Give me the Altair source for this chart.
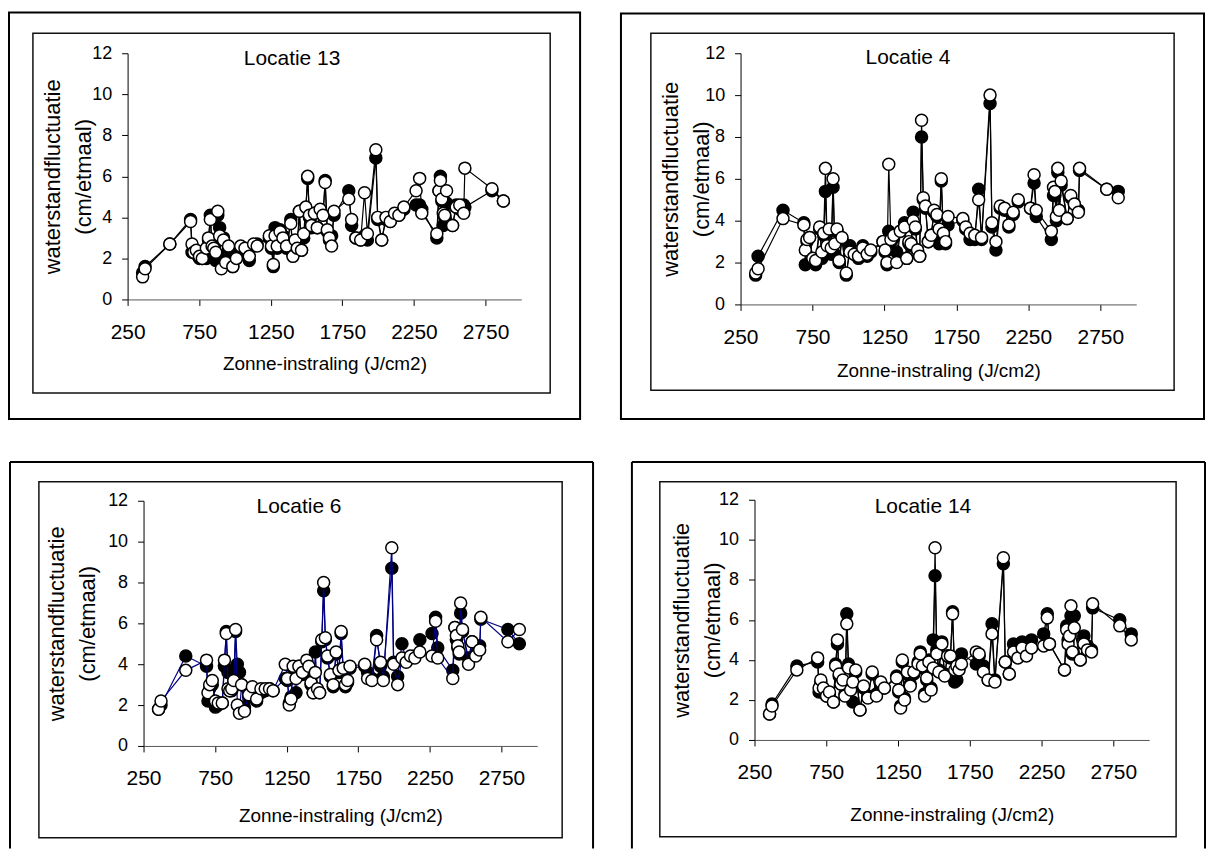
import altair as alt
import pandas as pd

# Zonne-instraling (J/cm2) per day, shared by all locations
X_IRR = [355, 372, 545, 690, 700, 712, 730, 752, 772, 800,
         815, 828, 840, 852, 866, 880, 893, 905, 920, 935,
         955, 985, 1010, 1040, 1070, 1100, 1130, 1155, 1240, 1255,
         1268, 1280, 1295, 1315, 1335, 1360, 1390, 1405, 1420, 1435,
         1450, 1465, 1480, 1495, 1508, 1520, 1535, 1555, 1575, 1595,
         1615, 1630, 1645, 1660, 1675, 1692, 1795, 1815, 1845, 1878,
         1905, 1925, 1984, 1997, 2025, 2055, 2085, 2115, 2145, 2180,
         2265, 2290, 2305, 2410, 2425, 2435, 2445, 2455, 2465, 2478,
         2520, 2545, 2570, 2598, 2606, 2795, 2875]

# Locatie 13
L13_B = [1.3, 1.6, 2.7, 3.9, 2.3, 2.3, 2.2, 2.0, 2.0, 2.0,
         2.9, 4.1, 2.5, 2.3, 1.9, 4.1, 3.5, 1.8, 3.0, 2.0,
         2.3, 1.6, 2.0, 2.5, 2.3, 1.9, 2.6, 2.7, 3.0, 2.5,
         1.6, 3.5, 2.5, 3.4, 3.1, 2.5, 3.9, 2.2, 2.8, 2.4,
         4.3, 2.4, 3.0, 4.4, 5.9, 4.0, 3.5, 4.2, 3.5, 4.3,
         4.1, 5.8, 3.3, 2.9, 3.1, 4.1, 5.3, 3.6, 3.0, 2.9,
         3.1, 2.9, 6.9, 3.9, 2.9, 3.9, 3.8, 4.1, 4.1, 4.4,
         4.6, 4.6, 4.4, 3.0, 5.3, 6.0, 4.8, 3.6, 4.0, 4.7,
         3.6, 4.6, 4.4, 4.6, 4.5, 5.3, 4.8]
L13_W = [1.1, 1.5, 2.7, 3.8, 2.7, 2.3, 2.4, 2.1, 2.0, 2.5,
         3.0, 3.9, 2.6, 2.5, 2.3, 4.3, 3.1, 1.5, 2.9, 1.8,
         2.6, 1.6, 2.0, 2.6, 2.5, 2.1, 2.7, 2.6, 3.1, 2.6,
         1.7, 3.1, 2.6, 3.3, 3.0, 2.6, 3.7, 2.1, 2.9, 2.5,
         4.3, 2.4, 3.2, 4.5, 6.0, 4.1, 3.6, 4.2, 3.5, 4.4,
         4.1, 5.7, 3.4, 3.0, 2.6, 4.3, 4.9, 3.9, 3.0, 2.9,
         5.2, 3.2, 7.3, 4.0, 2.9, 4.0, 3.8, 4.2, 4.1, 4.5,
         5.3, 5.9, 4.2, 3.2, 5.3, 5.8, 4.9, 4.2, 4.1, 5.3,
         3.6, 4.5, 4.6, 4.2, 6.4, 5.4, 4.8]

# Locatie 4
L4_B = [1.4, 2.3, 4.5, 3.9, 1.9, 3.0, 3.2, 2.1, 1.9, 3.6,
        2.2, 3.3, 5.4, 2.7, 3.5, 2.4, 5.6, 2.4, 3.5, 2.0,
        3.1, 1.4, 2.8, 2.4, 2.2, 2.8, 2.3, 2.5, 3.0, 2.5,
        1.9, 3.5, 3.0, 3.2, 2.5, 3.5, 3.9, 2.2, 2.9, 2.8,
        4.4, 3.6, 2.6, 2.3, 8.0, 5.0, 4.6, 3.0, 3.3, 4.4,
        4.2, 2.9, 5.9, 3.3, 2.9, 3.8, 4.0, 3.6, 3.1, 3.1,
        5.5, 3.1, 9.6, 3.7, 2.6, 4.6, 4.5, 3.7, 4.3, 4.9,
        4.6, 5.8, 4.2, 3.1, 5.2, 5.2, 4.0, 6.3, 4.3, 5.7,
        4.1, 5.1, 4.8, 4.5, 6.4, 5.5, 5.4]
L4_W = [1.5, 1.7, 4.1, 3.8, 2.6, 3.1, 3.2, 2.2, 2.1, 3.7,
        2.5, 3.4, 6.5, 2.8, 3.6, 2.7, 6.0, 2.9, 3.6, 2.1,
        3.2, 1.5, 2.5, 2.4, 2.3, 2.7, 2.4, 2.6, 3.0, 2.6,
        2.0, 6.7, 3.1, 3.3, 2.0, 3.5, 3.7, 2.2, 3.0, 2.9,
        4.0, 3.7, 2.6, 2.3, 8.8, 5.1, 4.7, 3.0, 3.3, 4.5,
        4.3, 3.6, 6.0, 3.4, 3.0, 4.2, 4.1, 3.7, 3.4, 3.3,
        5.0, 3.2, 10.0, 3.9, 3.0, 4.7, 4.6, 3.8, 4.4, 5.0,
        4.6, 6.2, 4.5, 3.5, 5.6, 5.4, 4.2, 6.5, 4.5, 5.9,
        4.1, 5.2, 4.8, 4.4, 6.5, 5.5, 5.1]

# Locatie 6
L6_B = [1.8, 2.0, 4.4, 3.9, 2.2, 2.8, 3.0, 1.9, 2.0, 2.1,
        3.9, 5.6, 3.6, 2.7, 2.7, 3.0, 5.6, 4.0, 3.6, 3.0,
        1.9, 2.4, 2.7, 2.2, 2.6, 2.7, 2.8, 2.7, 3.3, 3.2,
        2.1, 2.4, 3.8, 2.6, 3.9, 3.5, 4.1, 3.8, 3.0, 2.6,
        4.6, 2.7, 2.6, 5.1, 7.6, 5.2, 4.3, 3.4, 2.9, 4.5,
        3.6, 5.5, 3.6, 2.9, 3.1, 3.8, 3.9, 3.6, 3.3, 5.4,
        3.9, 3.4, 8.7, 4.1, 3.4, 5.0, 4.2, 4.3, 4.4, 5.2,
        5.5, 6.3, 4.8, 3.7, 5.8, 5.2, 4.8, 4.5, 6.5, 5.6,
        4.3, 5.1, 4.5, 4.9, 6.2, 5.7, 5.0]
L6_W = [1.8, 2.2, 3.7, 4.2, 2.6, 3.0, 3.2, 2.2, 2.1, 2.1,
        4.2, 5.5, 2.8, 2.7, 2.8, 3.2, 5.7, 2.0, 1.6, 3.0,
        1.7, 2.5, 2.9, 2.3, 2.8, 2.8, 2.8, 2.7, 4.0, 3.3,
        2.0, 2.3, 3.9, 3.3, 3.9, 3.6, 4.2, 3.9, 3.1, 2.6,
        3.6, 2.8, 2.6, 5.2, 8.0, 5.3, 4.4, 3.5, 3.0, 4.6,
        3.7, 5.6, 3.8, 3.0, 3.2, 3.9, 4.0, 3.3, 3.2, 5.2,
        4.1, 3.2, 9.7, 4.0, 3.0, 4.3, 4.1, 4.4, 4.3, 4.6,
        4.4, 6.1, 4.3, 3.3, 5.8, 5.4, 4.9, 4.6, 7.0, 5.7,
        4.0, 5.1, 4.4, 4.7, 6.3, 5.1, 5.7]

# Locatie 14
L14_B = [1.3, 1.8, 3.7, 3.9, 2.4, 2.9, 2.5, 2.2, 2.3, 1.9,
         3.8, 4.8, 3.2, 2.8, 2.9, 2.3, 6.3, 3.8, 2.6, 1.9,
         3.4, 1.5, 2.6, 2.2, 3.3, 2.3, 2.6, 2.6, 3.2, 2.4,
         1.7, 3.9, 2.1, 3.3, 2.8, 3.3, 3.9, 4.4, 3.6, 2.3,
         3.0, 4.0, 2.6, 5.0, 8.2, 4.5, 3.5, 4.9, 3.3, 4.2,
         4.1, 6.4, 2.9, 3.0, 3.6, 4.3, 3.8, 4.2, 3.7, 3.0,
         5.8, 3.0, 8.8, 3.9, 3.3, 4.8, 4.2, 4.9, 4.3, 5.0,
         5.3, 6.3, 4.8, 3.5, 5.7, 5.0, 5.5, 6.2, 4.3, 6.2,
         4.0, 5.2, 4.7, 4.5, 6.6, 6.0, 5.3]
L14_W = [1.3, 1.7, 3.5, 4.1, 2.6, 3.0, 2.6, 2.2, 2.4, 1.9,
         3.7, 5.0, 3.3, 2.8, 3.0, 2.2, 5.8, 3.6, 2.5, 2.9,
         3.5, 1.5, 2.7, 2.1, 3.4, 2.2, 2.9, 2.6, 3.1, 2.5,
         1.6, 4.0, 2.0, 3.4, 2.7, 3.4, 3.8, 4.3, 3.7, 2.2,
         3.1, 3.9, 2.5, 3.6, 9.6, 4.3, 3.4, 4.8, 3.2, 4.2,
         4.2, 6.3, 3.5, 3.7, 3.5, 3.8, 4.4, 4.3, 3.4, 3.0,
         5.3, 2.9, 9.1, 3.9, 3.3, 4.4, 4.1, 4.6, 4.2, 4.6,
         4.7, 6.1, 4.8, 3.5, 5.5, 4.8, 5.2, 6.7, 4.4, 5.6,
         4.0, 4.8, 4.5, 4.4, 6.8, 5.7, 5.0]

X_TICKS = [250, 750, 1250, 1750, 2250, 2750]
Y_TICKS = [0, 2, 4, 6, 8, 10, 12]
X_TITLE = "Zonne-instraling (J/cm2)"
Y_TITLE = ["waterstandfluctuatie", "(cm/etmaal)"]

FONT = "Liberation Sans"
CELL_W = 601
CELL_H = 421

for arr in (L13_B, L13_W, L4_B, L4_W, L6_B, L6_W, L14_B, L14_W):
    assert len(arr) == len(X_IRR)


def panel(title, yb, yw, ax, ay, W, H, outer, inner, tx, tb, xty, ytx, line_color, open_bottom):
    n = len(X_IRR)
    dfb = pd.DataFrame({"x": X_IRR, "y": yb, "i": list(range(n))})
    dfw = pd.DataFrame({"x": X_IRR, "y": yw, "i": list(range(n))})
    one = pd.DataFrame({"t": [title]})

    xenc = alt.X("x:Q",
                 scale=alt.Scale(domain=[250, 3000], range=[ax, ax + W], nice=False, zero=False),
                 axis=alt.Axis(values=X_TICKS, format="d", title=X_TITLE, grid=False,
                               offset=ay + H - CELL_H,
                               domainColor="#555", domainWidth=1, tickColor="#000",
                               tickSize=6, tickWidth=1, labelFont=FONT, labelFontSize=21,
                               labelColor="#000", labelPadding=16, labelFlush=False,
                               labelOverlap=False, titleFont=FONT, titleFontSize=19,
                               titleFontWeight="normal", titleColor="#000",
                               titleX=ax + W / 2, titleY=xty, titleBaseline="alphabetic",
                               titleAlign="center"))
    yenc = alt.Y("y:Q",
                 scale=alt.Scale(domain=[0, 12], range=[ay + H, ay], nice=False, zero=True),
                 axis=alt.Axis(values=Y_TICKS, format="d", title=Y_TITLE, grid=False,
                               offset=-ax,
                               domainColor="#000", domainWidth=1, tickColor="#000",
                               tickSize=6, tickWidth=1, labelFont=FONT, labelFontSize=18,
                               labelColor="#000", labelPadding=10, labelFlush=False,
                               labelOverlap=False, titleFont=FONT, titleFontSize=22,
                               titleFontWeight="normal", titleColor="#000",
                               titleLineHeight=31, titleAngle=270,
                               titleX=ytx, titleY=ay + H / 2, titleBaseline="bottom",
                               titleAlign="center"))

    ol, orr, ot, ob = outer
    il, ir, it, ib = inner
    layers = []
    if open_bottom:
        layers.append(alt.Chart(one).mark_rule(color="#000", strokeWidth=2).encode(
            x=alt.value(ol), y=alt.value(ot), y2=alt.value(ob)))
        layers.append(alt.Chart(one).mark_rule(color="#000", strokeWidth=2).encode(
            x=alt.value(orr), y=alt.value(ot), y2=alt.value(ob)))
        layers.append(alt.Chart(one).mark_rule(color="#000", strokeWidth=2).encode(
            x=alt.value(ol), x2=alt.value(orr), y=alt.value(ot)))
    else:
        layers.append(alt.Chart(one).mark_rect(fillOpacity=0, stroke="#000", strokeWidth=2).encode(
            x=alt.value(ol), x2=alt.value(orr), y=alt.value(ot), y2=alt.value(ob)))
    layers.append(alt.Chart(one).mark_rect(fillOpacity=0, stroke="#111", strokeWidth=1.5).encode(
        x=alt.value(il), x2=alt.value(ir), y=alt.value(it), y2=alt.value(ib)))

    layers.append(alt.Chart(dfb).mark_line(color=line_color, strokeWidth=1.2).encode(
        x=xenc, y=yenc, order="i:Q"))
    layers.append(alt.Chart(dfb).mark_circle(size=145, fill="#000", stroke="#000",
                                             strokeWidth=1.5, opacity=1).encode(
        x="x:Q", y="y:Q"))
    layers.append(alt.Chart(dfw).mark_line(color=line_color, strokeWidth=1.2).encode(
        x="x:Q", y="y:Q", order="i:Q"))
    layers.append(alt.Chart(dfw).mark_circle(size=145, fill="#fff", stroke="#000",
                                             strokeWidth=1.5, opacity=1).encode(
        x="x:Q", y="y:Q"))
    layers.append(alt.Chart(one).mark_text(font=FONT, fontSize=21, align="center",
                                           baseline="alphabetic", color="#000").encode(
        x=alt.value(tx), y=alt.value(tb), text="t:N"))

    return alt.layer(*layers).properties(width=CELL_W, height=CELL_H)


# cell-local geometry (cell 1 at page (8,8), cell 2 at (609,8), cell 3 at (8,429), cell 4 at (609,429))
p1 = panel("Locatie 13", L13_B, L13_W, 120, 44, 395, 247,
           (1, 574, 3, 411), (25, 544, 24, 385),
           285, 56, 70, -63, "#000", False)
p2 = panel("Locatie 4", L4_B, L4_W, 134, 44, 397, 252,
           (14, 599, 4, 411), (44, 569, 24, 382),
           302, 55, 72, -58, "#000", False)
p3 = panel("Locatie 6", L6_B, L6_W, 136, 72, 395, 246,
           (2, 587, 33, CELL_H), (31, 556, 53, 410),
           292, 84, 76, -75, "#000080", True)
p4 = panel("Locatie 14", L14_B, L14_W, 148, 71, 396, 241,
           (25, 600, 33, CELL_H), (53, 571, 53, 409),
           317, 84, 81, -61, "#000", True)

chart = alt.concat(
    p1, p2, p3, p4,
    columns=2,
    spacing=0,
).properties(
    padding=0
).configure(
    font=FONT
).configure_view(
    stroke="transparent", strokeWidth=0
)

chart.save("out.html", embed_options={"renderer": "svg", "actions": False})
